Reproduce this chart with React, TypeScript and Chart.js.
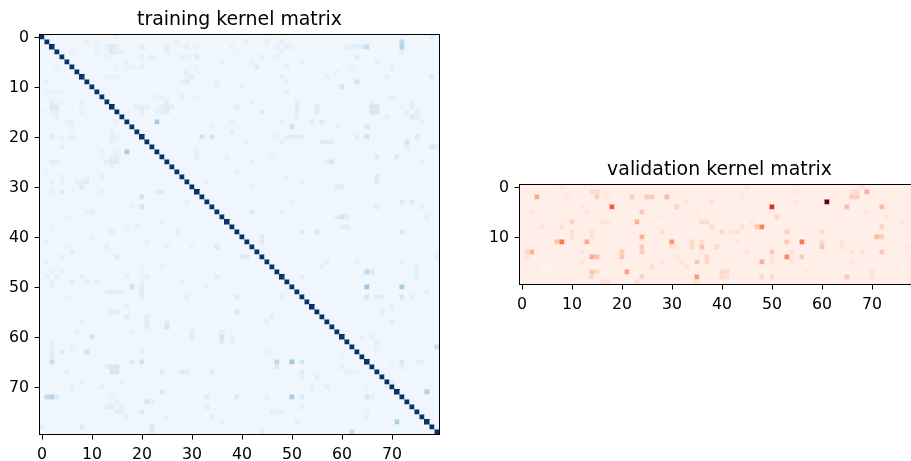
import React, { useEffect, useRef } from "react";
import { Chart, registerables } from "chart.js";

Chart.register(...registerables);

const trainSize = 80;
const valRowsCount = 20;
const valColsCount = 80;
const axisTicksX = [0, 10, 20, 30, 40, 50, 60, 70];
const trainTicksY = [0, 10, 20, 30, 40, 50, 60, 70];
const valTicksY = [0, 10];
const trainTitle = "training kernel matrix";
const valTitle = "validation kernel matrix";
const bluesStops = ["#f7fbff", "#deebf7", "#c6dbef", "#9ecae1", "#6baed6", "#4292c6", "#2171b5", "#08519c", "#08306b"];
const redsStops = ["#fff5f0", "#fee0d2", "#fcbba1", "#fc9272", "#fb6a4a", "#ef3b2c", "#cb181d", "#a50f15", "#67000d"];
const trainBase = 0.04;
const valBase = 0.035;
const trainDiagonal = 1;
// diagonal cells that the reference's resampling shows a little larger
const wideDiagonal = [2, 8, 14, 20, 31, 37, 48, 54, 60, 65, 71, 77];

// [row, col, value]; the training matrix is symmetric, so each is mirrored
const trainCells: [number, number, number][] = [
  [2,14,.14],[2,15,.1],[3,14,.1],[3,15,.12],[2,20,.13],[4,31,.12],[8,30,.12],[14,2,.15],[14,3,.15],[15,3,.1],[13,2,.09],[14,20,.1],[14,19,.09],
  [14,24,.13],[14,25,.13],[15,24,.1],[13,25,.1],[17,23,.35],[20,2,.12],[20,14,.1],[20,15,.1],[21,14,.09],[20,32,.2],[20,34,.18],[25,2,.1],[25,3,.1],
  [24,14,.1],[25,14,.13],[25,15,.13],[26,14,.1],[24,31,.12],[31,4,.12],[31,2,.08],[32,20,.2],[34,20,.18],[34,18,.13],[31,24,.12],[50,18,.2],[51,20,.12],[52,20,.14],
  [51,14,.12],[51,15,.12],[42,35,.15],[39,14,.1],[42,13,.1],[44,15,.12],[43,6,.1],[2,65,.16],[2,64,.1],[2,72,.22],[3,72,.12],[10,60,.15],[9,63,.15],[18,50,.2],[14,66,.14],
  [14,67,.14],[15,66,.12],[13,66,.1],[14,51,.12],[15,51,.1],[14,55,.12],[15,55,.1],[20,49,.09],[20,50,.12],[20,51,.12],[20,52,.1],[20,65,.14],[20,63,.1],[21,56,.12],[21,57,.12],[21,73,.14],
  [22,73,.1],[6,43,.12],[20,75,.12],[22,78,.12],[22,79,.1],[0,78,.1],[25,58,.14],[25,57,.1],[24,71,.12],[29,52,.14],[29,67,.12],[28,67,.1],[35,42,.14],[35,48,.1],
  [39,55,.18],[36,60,.2],[36,61,.12],[38,61,.1],[38,60,.1],[40,44,.14],[41,44,.1],[44,40,.12],[44,41,.12],[45,57,.1],[46,75,.12],[44,79,.1],[39,72,.15],[39,52,.12],[25,42,.1],[33,72,.12],
  [33,74,.12],[47,65,.27],[47,66,.15],[50,65,.38],[50,72,.33],[52,65,.2],[52,72,.2],[52,67,.12],[52,68,.12],[65,2,.24],[64,2,.12],[72,1,.26],[72,2,.3],[72,3,.12],[60,10,.18],
  [63,9,.2],[65,18,.15],[65,20,.2],[66,14,.17],[66,15,.17],[67,14,.17],[67,15,.17],[67,5,.09],[55,14,.12],[55,15,.12],[56,17,.12],[57,21,.12],[58,21,.1],[58,25,.18],
  [59,30,.12],[60,30,.12],[60,36,.2],[59,36,.1],[55,39,.15],[71,24,.15],[73,21,.18],[73,22,.1],[75,20,.14],[78,22,.16],[78,8,.12],[78,0,.1],[74,16,.12],[74,14,.12],
  [74,13,.09],[75,15,.09],[67,28,.14],[67,29,.12],[67,24,.12],[67,34,.12],[63,4,.12],[63,2,.12],[62,2,.09],[65,47,.27],[65,50,.38],[65,52,.17],[72,50,.35],[72,52,.15],[72,65,.14],[72,66,.1],
  [71,77,.33],[62,79,.25],[65,72,.16],[65,75,.1],[65,76,.09],[6,49,.09],[3,16,.09],[6,3,.08],[6,20,.09],[9,29,.12],[7,29,.1],[5,42,.08],[1,41,.08],[1,48,.09],[2,49,.1],[3,48,.09],
  [2,61,.09],[2,62,.1],[5,52,.08],[10,40,.08],[16,51,.1],[13,51,.09],[17,54,.09],[18,59,.08],[16,75,.1],[17,76,.1],[15,73,.09],[14,72,.08],[45,63,.08],[46,56,.1],[48,52,.1],[70,57,.1],[68,55,.1],
  [70,69,.09],[74,52,.1],[75,47,.1],[75,48,.1],[60,66,.09],[61,67,.1],[64,60,.08],[27,39,.09],[30,42,.08],[33,29,.08],[41,21,.08],[46,24,.08],[48,17,.09],[48,21,.09],[49,28,.08],[38,2,.08],[35,9,.09],
  [45,1,.08],[47,4,.08],[57,8,.09],[59,7,.08],[62,6,.08],[69,8,.09],[70,6,.09],[69,16,.09],[70,12,.09],[76,34,.09],[77,36,.09],[76,25,.09],
  [1,9,.07],[1,11,.08],[2,11,.09],[2,13,.1],[3,11,.08],[3,13,.07],[4,20,.07],[4,28,.07],[4,29,.07],[6,15,.07],[8,13,.08],[8,14,.08],[9,28,.08],[9,35,.08],[11,1,.07],[11,2,.07],[11,3,.07],[11,4,.07],
  [12,24,.08],[12,28,.08],[13,4,.08],[15,0,.07],[15,17,.07],[15,8,.08],[17,5,.08],[17,6,.08],[18,6,.08],[18,34,.07],[22,4,.1],[23,12,.08],[23,15,.08],[23,31,.1],
  [27,1,.07],[28,4,.09],[29,2,.09],[29,8,.09],[28,12,.1],[31,6,.07],[31,12,.08],[35,10,.09],[36,5,.08],[39,3,.07],[44,4,.09],[47,2,.08],[48,8,.09],[49,11,.09],[49,9,.08],[50,2,.08],[47,20,.08],[46,20,.07],
  [48,35,.1],[52,29,.1],[50,33,.08],[37,24,.08],[38,17,.08],[38,19,.09],[57,45,.1],[75,46,.09],[68,52,.1],[77,51,.09],[70,54,.09],[72,45,.08],[67,63,.08],[70,65,.08],[75,65,.09],[65,70,.07],[62,67,.08],[65,75,.08],
];

// [row, col, value]
const valCells: [number, number, number][] = [
  [3,61,1],[4,50,.68],[4,18,.55],[11,8,.46],[11,7,.22],[8,48,.43],[8,47,.2],[11,56,.45],[14,53,.4],[11,30,.37],[18,35,.35],[17,21,.33],[2,3,.3],[11,13,.3],[14,14,.3],[14,15,.22],[7,23,.28],[10,24,.28],
  [13,2,.28],[1,69,.28],[15,48,.28],[2,29,.25],[4,72,.25],[10,71,.25],[10,72,.18],[4,65,.23],[12,36,.22],[17,14,.22],[17,15,.15],[12,60,.22],[11,60,.14],[2,25,.2],[2,26,.2],[5,24,.2],[12,24,.2],[13,24,.2],[13,20,.2],[14,20,.2],[15,35,.2],
  [13,72,.2],[13,50,.2],[14,56,.2],[18,65,.2],[11,53,.2],[2,66,.18],[2,67,.18],[1,66,.12],[1,67,.15],[2,22,.18],[1,14,.14],[1,15,.14],[2,15,.17],[7,10,.18],[9,53,.18],[8,72,.17],[4,31,.17],[18,24,.17],[9,60,.15],
  [14,37,.16],[15,37,.16],[7,36,.15],[6,51,.15],[12,39,.15],[17,41,.15],[18,48,.15],[18,50,.15],[7,37,.15],[8,38,.14],[9,40,.15],[11,34,.15],[12,34,.14],[19,16,.12],[19,17,.12],[9,10,.13],[10,10,.13],[8,4,.1],
  [13,12,.1],[9,14,.12],[10,14,.12],[13,1,.14],[14,1,.12],[18,14,.16],[5,2,.09],[7,17,.1],[7,16,.1],[8,8,.12],[13,54,.12],[14,50,.1],[15,54,.1],[18,40,.14],[17,40,.14],[18,41,.12],[19,23,.12],
  [19,35,.1],[15,50,.09],[17,70,.12],[18,70,.13],[13,66,.1],[13,68,.12],[6,73,.09],[11,36,.12],[13,36,.09],[2,9,.09],[2,17,.09],[9,28,.12],[12,31,.1],[12,30,.1],[11,64,.1],[12,64,.1],[8,44,.12],[9,43,.12],[9,42,.1],
  [16,26,.12],[15,32,.1],[16,33,.1],[1,55,.08],[0,45,.1],[0,68,.1],[0,8,.08],[3,38,.1],
  [15,4,.02],[16,4,.02],[17,4,.02],[16,5,.02],[17,5,.02],[18,4,.02],[18,5,.025],[3,3,.02],[4,5,.025],[6,20,.025],[7,19,.025],[16,18,.02],[17,18,.025],[9,27,.02],[10,44,.02],[5,60,.02],[6,60,.02],[6,62,.025],[15,60,.02],[16,62,.025],
  [4,12,.07],[5,13,.08],[1,30,.07],[3,33,.08],[6,28,.07],[5,35,.07],[15,12,.08],[15,28,.08],[14,31,.07],[2,44,.07],[7,46,.08],[3,55,.07],[5,69,.07],[12,77,.08],[16,75,.07],[15,66,.08],[7,76,.07],[11,43,.08],[13,45,.08],[17,57,.08],
];

const colorAt = (stops: string[], value: number) => {
  const t = Math.max(0, Math.min(1, value)) * (stops.length - 1);
  const i = Math.min(stops.length - 2, Math.floor(t));
  const f = t - i;
  const ch = (s: string, k: number) => parseInt(s.slice(1 + k * 2, 3 + k * 2), 16);
  const part = (k: number) => Math.round(ch(stops[i], k) * (1 - f) + ch(stops[i + 1], k) * f);
  return `rgb(${part(0)},${part(1)},${part(2)})`;
};

const buildMatrix = (rows: number, cols: number, base: number, cells: [number, number, number][], mirror: boolean) => {
  const m = Array.from({ length: rows }, () => Array.from({ length: cols }, () => base));
  for (const [r, c, v] of cells) {
    m[r][c] = v;
    if (mirror) m[c][r] = v;
  }
  if (mirror) for (let i = 0; i < rows; i++) m[i][i] = trainDiagonal;
  return m;
};

const cellRadius = 5 / Math.SQRT2;
const wideRadius = 6 / Math.SQRT2;

const makeChart = (
  canvas: HTMLCanvasElement,
  matrix: number[][],
  stops: string[],
  base: number,
  title: string,
  ticksY: number[],
  wide: number[],
) => {
  const rows = matrix.length;
  const cols = matrix[0].length;
  const points: { x: number; y: number }[] = [];
  const colors: string[] = [];
  const radii: number[] = [];
  matrix.forEach((row, r) =>
    row.forEach((v, c) => {
      const isWide = r === c && wide.includes(r);
      points.push({ x: c, y: r });
      colors.push(colorAt(stops, v));
      radii.push(isWide ? wideRadius : cellRadius);
    }),
  );
  const frame = {
    id: "frame",
    beforeDatasetsDraw(chart: any) {
      const { ctx, chartArea: a } = chart;
      ctx.save();
      ctx.fillStyle = colorAt(stops, base);
      ctx.fillRect(a.left, a.top, a.right - a.left, a.bottom - a.top);
      ctx.restore();
    },
    afterDatasetsDraw(chart: any) {
      const { ctx, chartArea: a } = chart;
      const w = a.right - a.left;
      const h = a.bottom - a.top;
      // soften the cells as the reference's resampled image does
      ctx.save();
      ctx.beginPath();
      ctx.rect(a.left, a.top, w, h);
      ctx.clip();
      ctx.filter = "blur(0.5px)";
      ctx.drawImage(chart.canvas, a.left, a.top, w, h, a.left, a.top, w, h);
      ctx.restore();
      ctx.save();
      ctx.strokeStyle = "#000";
      ctx.lineWidth = 1;
      ctx.strokeRect(a.left, a.top, w, h);
      ctx.restore();
    },
  };
  const tickFont = { family: "'DejaVu Sans'", size: 15.75 };
  return new Chart(canvas, {
    type: "scatter",
    data: {
      datasets: [
        {
          data: points,
          xAxisID: "x",
          yAxisID: "y",
          pointStyle: "rect",
          pointRadius: radii,
          pointBorderWidth: 0,
          pointBackgroundColor: colors,
          pointHoverRadius: radii,
        },
      ],
    },
    options: {
      responsive: false,
      animation: false,
      events: [],
      layout: { padding: 0 },
      plugins: {
        legend: { display: false },
        tooltip: { enabled: false },
        title: {
          display: true,
          text: title,
          color: "#000",
          font: { family: "'DejaVu Sans'", size: 18.9, weight: "normal", lineHeight: "20px" },
          padding: { top: 10, bottom: 4.5 },
        },
      },
      scales: {
        x: {
          type: "linear",
          min: -0.5,
          max: cols - 0.5,
          afterBuildTicks: (s: any) => {
            s.ticks = axisTicksX.map((value) => ({ value }));
          },
          afterFit: (s: any) => {
            s.height = 26.5;
          },
          grid: { drawOnChartArea: false, drawTicks: true, tickLength: 5, tickColor: "#000", tickWidth: 1 },
          border: { display: false },
          ticks: { color: "#000", font: tickFont, maxRotation: 0, padding: 5.5, autoSkip: false, callback: (v: any) => String(v) },
        },
        y: {
          type: "linear",
          reverse: true,
          min: -0.5,
          max: rows - 0.5,
          afterBuildTicks: (s: any) => {
            s.ticks = ticksY.map((value) => ({ value }));
          },
          afterFit: (s: any) => {
            s.width = 39.5;
          },
          grid: { drawOnChartArea: false, drawTicks: true, tickLength: 5, tickColor: "#000", tickWidth: 1 },
          border: { display: false },
          ticks: { color: "#000", font: tickFont, padding: 5.5, labelOffset: 1, autoSkip: false, callback: (v: any) => String(v) },
        },
        // empty axis on the right: it balances the left one so that the title centres on the plot
        yBalance: {
          type: "linear",
          axis: "y",
          position: "right",
          min: 0,
          max: 1,
          afterFit: (s: any) => {
            s.width = 39.5;
          },
          grid: { display: false },
          border: { display: false },
          ticks: { display: false },
        },
      },
    },
    plugins: [frame],
  } as any);
};

export default function App() {
  const leftRef = useRef<HTMLCanvasElement>(null);
  const rightRef = useRef<HTMLCanvasElement>(null);
  useEffect(() => {
    const left = makeChart(
      leftRef.current!,
      buildMatrix(trainSize, trainSize, trainBase, trainCells, true),
      bluesStops,
      trainBase,
      trainTitle,
      trainTicksY,
      wideDiagonal,
    );
    const right = makeChart(
      rightRef.current!,
      buildMatrix(valRowsCount, valColsCount, valBase, valCells, false),
      redsStops,
      valBase,
      valTitle,
      valTicksY,
      [],
    );
    return () => {
      left.destroy();
      right.destroy();
    };
  }, []);
  return (
    <div style={{ position: "fixed", left: 0, top: 0, width: 911, height: 461, overflow: "hidden", background: "#fff" }}>
      <canvas ref={leftRef} width={479} height={461} style={{ position: "absolute", left: 0, top: 0, display: "block" }} />
      <canvas ref={rightRef} width={479} height={161} style={{ position: "absolute", left: 480, top: 150, display: "block" }} />
    </div>
  );
}
